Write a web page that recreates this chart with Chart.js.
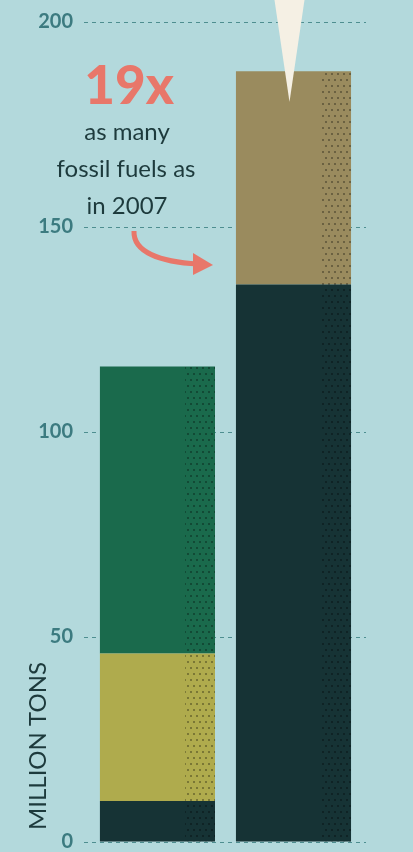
<!DOCTYPE html>
<html>
<head>
<meta charset="utf-8">
<script src="https://cdn.jsdelivr.net/npm/chart.js@4"></script>
<style>
  html, body { margin: 0; padding: 0; background: #b3d9dc; }
  #wrap { width: 413px; height: 852px; }
</style>
</head>
<body>
<div id="wrap"><canvas id="chart"></canvas></div>
<script>
// values in million tons
const categories = ['2007', 'now'];
const baseDark = [10, 136];
const olive = [36, 0];
const green = [70, 0];
const khaki = [0, 52];
const yTicks = [0, 50, 100, 150, 200];

// bars sit on a numeric x scale (0 and 1) so spacing can be tuned
const pts = arr => arr.map((v, i) => ({ x: i, y: v }));

// dotted texture used on the right edge of each bar
function dotPattern() {
	const c = document.createElement('canvas');
	c.width = 6; c.height = 12;
	const g = c.getContext('2d');
	g.fillStyle = 'rgba(0,0,0,0.3)';
	g.fillRect(1, 1, 2, 2);
	g.fillRect(4, 7, 2, 2);
	return g.createPattern(c, 'repeat');
}

const extras = {
	id: 'extras',
	afterDatasetsDraw(chart) {
		const ctx = chart.ctx;
		const y = chart.scales.y;
		const pat = dotPattern();
		ctx.save();
		// texture strip on each bar segment
		chart.data.datasets.forEach((ds, i) => {
			chart.getDatasetMeta(i).data.forEach((bar, j) => {
				if (!ds.data[j].y) return;
				const p = bar.getProps(['x', 'y', 'base', 'width'], true);
				const right = p.x + p.width / 2;
				const left = right - p.width * 0.26;
				ctx.fillStyle = pat;
				ctx.fillRect(left, p.y, right - left, p.base - p.y);
			});
		});

		// white spike coming down into the tall bar
		const tall = chart.getDatasetMeta(0).data[1];
		const cx = tall.x - 4;
		ctx.fillStyle = '#f5f0e4';
		ctx.beginPath();
		ctx.moveTo(cx - 15, 0);
		ctx.lineTo(cx + 15, 0);
		ctx.lineTo(cx, y.getPixelForValue(180.5));
		ctx.closePath();
		ctx.fill();

		// annotation
		ctx.textAlign = 'center';
		ctx.textBaseline = 'alphabetic';
		ctx.fillStyle = '#e8776a';
		ctx.font = '900 53px Lato, "Open Sans", sans-serif';
		ctx.fillText('19x', 129, 104);
		ctx.fillStyle = '#1d3a3c';
		ctx.font = '24px Lato, "Open Sans", sans-serif';
		ctx.fillText('as many', 127, 140);
		ctx.fillText('fossil fuels as', 126, 177);
		ctx.fillText('in 2007', 127, 214);

		// arrow
		ctx.strokeStyle = '#e8776a';
		ctx.lineWidth = 5;
		ctx.lineCap = 'butt';
		ctx.beginPath();
		ctx.moveTo(134, 231);
		ctx.bezierCurveTo(133, 252, 160, 262, 198, 264);
		ctx.stroke();
		ctx.fillStyle = '#e8776a';
		ctx.beginPath();
		ctx.moveTo(193, 253);
		ctx.lineTo(213, 265);
		ctx.lineTo(193, 275);
		ctx.closePath();
		ctx.fill();

		// axis title
		ctx.save();
		ctx.translate(46, 746);
		ctx.rotate(-Math.PI / 2);
		ctx.fillStyle = '#1d3a3c';
		ctx.font = '24px Lato, "Open Sans", sans-serif';
		ctx.textAlign = 'center';
		ctx.fillText('MILLION TONS', 0, 0);
		ctx.restore();

		ctx.restore();
	}
};

new Chart(document.getElementById('chart'), {
	type: 'bar',
	data: {
		labels: categories,
		datasets: [
			{ label: 'base', data: pts(baseDark), backgroundColor: '#163335' },
			{ label: 'olive', data: pts(olive), backgroundColor: '#afab4d' },
			{ label: 'green', data: pts(green), backgroundColor: '#1a6a4c' },
			{ label: 'khaki', data: pts(khaki), backgroundColor: '#9a8b5e' }
		]
	},
	options: {
		responsive: true,
		maintainAspectRatio: false,
		animation: false,
		layout: { padding: { top: 22, bottom: 10, left: 0, right: 47 } },
		datasets: { bar: { barPercentage: 0.846, categoryPercentage: 1, borderWidth: 0 } },
		plugins: { legend: { display: false }, tooltip: { enabled: false } },
		scales: {
			x: {
				type: 'linear', stacked: true, display: false, offset: false,
				min: -0.54, max: 1.533,
				afterBuildTicks(s) { s.ticks = categories.map((c, i) => ({ value: i })); }
			},
			y: {
				stacked: true,
				min: 0,
				max: 200,
				afterFit(s) { s.width = 84; s.paddingTop = 0; s.paddingBottom = 0; },
				afterBuildTicks(s) { s.ticks = yTicks.map(v => ({ value: v })); },
				grid: {
					color: '#4e8e90',
					lineWidth: 1,
					drawTicks: false
				},
				border: { display: false, dash: [4, 4] },
				ticks: {
					padding: 11,
					color: '#3c7b80',
					font: { family: 'Lato, "Open Sans", sans-serif', size: 20, weight: 'bold' }
				}
			}
		}
	},
	plugins: [extras]
});
</script>
</body>
</html>
